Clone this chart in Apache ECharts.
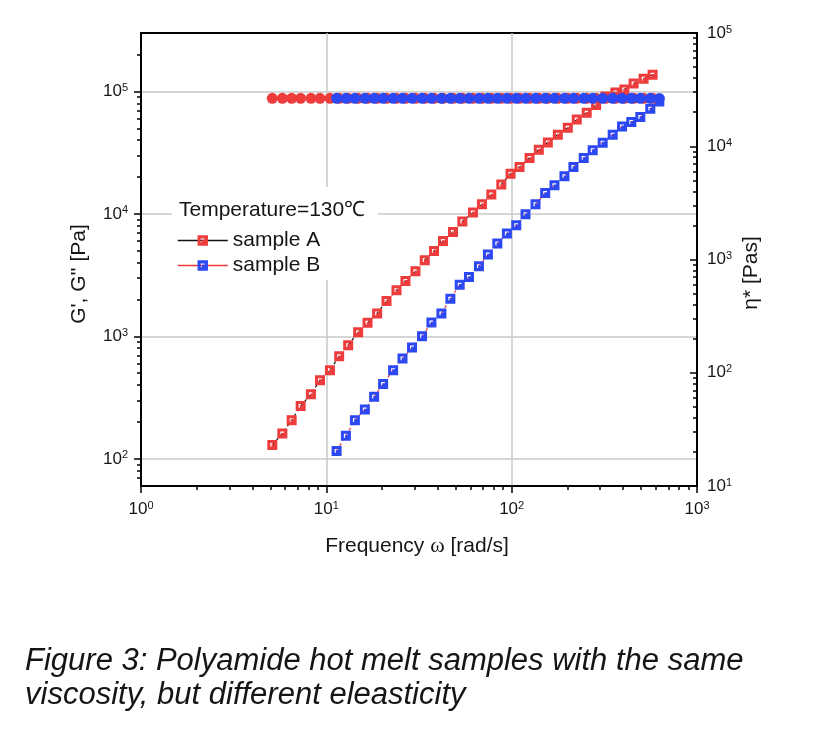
<!DOCTYPE html>
<html><head><meta charset="utf-8">
<script src="https://cdn.jsdelivr.net/npm/echarts@6/dist/echarts.min.js"></script>
<style>html,body{margin:0;padding:0;background:#fff}#c{width:826px;height:730px}</style>
</head><body><div id="c"></div>
<script>
// ---- data ----
const freqA = [5.11, 5.79, 6.50, 7.27, 8.26, 9.24, 10.46, 11.73, 13.12, 14.85, 16.69, 18.80, 21.12, 23.91, 26.73, 30.26, 33.96, 38.11, 42.62, 48.24, 54.20, 61.82, 69.11, 77.66, 87.90, 98.65, 110.3, 124.9, 140.1, 156.7, 177.4, 200.8, 224.5, 254.1, 285.5, 320.4, 362.6, 405.5, 455.0, 515.1, 576.0];
const gA = [130, 161, 207, 270, 336, 439, 530, 689, 848, 1082, 1289, 1538, 1948, 2381, 2836, 3402, 4183, 4982, 6012, 7118, 8652, 10250, 11970, 14370, 17340, 21320, 24130, 28580, 33460, 38370, 44360, 50570, 59100, 67040, 77620, 91040, 98130, 103800, 116200, 126900, 136800];
const etaA = [26500, 26500, 26500, 26500, 26500, 26500, 26500, 26500, 26500, 26500, 26500, 26500, 26500, 26500, 26500, 26500, 26500, 26500, 26500, 26500, 26500, 26500, 26500, 26500, 26500, 26500, 26500, 26500, 26500, 26500, 26500, 26500, 26500, 26500, 26500, 26500, 26500, 26500, 26500, 26500, 26500];
const freqB = [11.36, 12.75, 14.26, 16.14, 18.11, 20.25, 22.93, 25.76, 29.01, 32.84, 36.90, 41.78, 46.70, 52.43, 58.83, 66.60, 74.44, 83.66, 94.23, 105.9, 118.8, 134.5, 151.7, 170.2, 192.7, 215.4, 244.8, 273.7, 309.8, 350.8, 394.1, 442.2, 494.6, 559.8, 626.0];
const gB = [116, 154, 207, 253, 321, 408, 530, 660, 812, 1004, 1298, 1538, 2030, 2641, 3057, 3737, 4656, 5723, 6907, 8072, 9924, 11970, 14810, 17110, 20270, 24130, 28580, 33020, 38160, 44360, 51820, 56180, 61720, 72240, 82850];
const etaB = [26500, 26500, 26500, 26500, 26500, 26500, 26500, 26500, 26500, 26500, 26500, 26500, 26500, 26500, 26500, 26500, 26500, 26500, 26500, 26500, 26500, 26500, 26500, 26500, 26500, 26500, 26500, 26500, 26500, 26500, 26500, 26500, 26500, 26500, 26400];

// tick values
const xMajor = [1, 10, 100, 1000];
const xMinor = [2, 3, 4, 5, 6, 7, 8, 9, 20, 30, 40, 50, 60, 70, 80, 90, 200, 300, 400, 500, 600, 700, 800, 900];
const yLeftMajor = [100, 1000, 10000, 100000];
const yLeftMinor = [70, 80, 90, 200, 300, 400, 500, 600, 700, 800, 900, 2000, 3000, 4000, 5000, 6000, 7000, 8000, 9000, 20000, 30000, 40000, 50000, 60000, 70000, 80000, 90000, 200000];
const yRightMajor = [10, 100, 1000, 10000, 100000];
const yRightMinor = [20, 30, 40, 50, 60, 70, 80, 90, 200, 300, 400, 500, 600, 700, 800, 900, 2000, 3000, 4000, 5000, 6000, 7000, 8000, 9000, 20000, 30000, 40000, 50000, 60000, 70000, 80000, 90000];

const seriesNames = ['sample A', 'sample B'];
const legendTitle = 'Temperature=130\u2103';
const xTitle = ['Frequency ', '\u03c9', ' [rad/s]'];
const yLeftTitle = "G', G'' [Pa]";
const yRightTitle = '\u03b7* [Pas]';
const caption = ['Figure 3: Polyamide hot melt samples with the same', 'viscosity, but different eleasticity'];

// ---- chart ----
const FF = "'Liberation Sans', Arial, Helvetica, sans-serif";
const INK = '#151515';
const RED = '#ee3b3b', BLUE = '#2b48f2';
const SQ = 'path://M0,0H10V10H0Z M3,3V6.8H4.2V4.2H6.8V3Z';
const zip = (a, b) => a.map((v, i) => [v, b[i]]);

function powLabel(v) {
  const e = Math.round(Math.log10(v));
  return '{b|10}{s|' + e + '}';
}
const rich = {
  b: { fontSize: 17, lineHeight: 18, fontFamily: FF, color: INK },
  s: { fontSize: 11, lineHeight: 11, verticalAlign: 'top', fontFamily: FF, color: INK }
};
const tickStyle = { color: '#000', width: 1.5 };

function majorAxis(extra) {
  return Object.assign({
    type: 'log', logBase: 10,
    axisLine: { show: true, onZero: false, lineStyle: { color: '#000', width: 2 } },
    minorTick: { show: false }, minorSplitLine: { show: false }
  }, extra);
}
function minorAxis(extra) {
  return Object.assign({
    type: 'log', logBase: 10,
    axisLine: { show: false, onZero: false },
    axisLabel: { show: false },
    splitLine: { show: false },
    minorTick: { show: false }, minorSplitLine: { show: false }
  }, extra);
}

const chart = echarts.init(document.getElementById('c'), null, { renderer: 'canvas' });
chart.setOption({
  animation: false,
  backgroundColor: '#fff',
  textStyle: { fontFamily: FF },
  grid: { left: 141, right: 129, top: 33, bottom: 244, containLabel: false, outerBoundsMode: 'none',
          show: true, borderColor: '#000', borderWidth: 2, backgroundColor: 'transparent' },
  xAxis: [
    majorAxis({ min: 1, max: 1000, position: 'bottom',
      axisTick: { show: true, length: 7, customValues: xMajor, lineStyle: tickStyle },
      axisLabel: { show: true, customValues: xMajor, margin: 14, formatter: powLabel, rich: rich },
      splitLine: { show: true, lineStyle: { color: '#c9c9c9', width: 1.5 } } }),
    minorAxis({ min: 1, max: 1000, position: 'bottom',
      axisTick: { show: true, length: 4, customValues: xMinor, lineStyle: tickStyle } })
  ],
  yAxis: [
    majorAxis({ min: 60, max: 300000, position: 'left',
      axisTick: { show: true, length: 7, customValues: yLeftMajor, lineStyle: tickStyle },
      axisLabel: { show: true, customValues: yLeftMajor, margin: 13, formatter: powLabel, rich: rich },
      splitLine: { show: true, lineStyle: { color: '#c9c9c9', width: 1.5 } } }),
    minorAxis({ min: 60, max: 300000, position: 'left',
      axisTick: { show: true, length: 4, customValues: yLeftMinor, lineStyle: tickStyle } }),
    majorAxis({ min: 10, max: 100000, position: 'right',
      axisTick: { show: true, inside: true, length: 7, customValues: yRightMajor, lineStyle: tickStyle },
      axisLabel: { show: true, customValues: yRightMajor, margin: 10, formatter: powLabel, rich: rich },
      splitLine: { show: false } }),
    minorAxis({ min: 10, max: 100000, position: 'right',
      axisTick: { show: true, inside: true, length: 4, customValues: yRightMinor, lineStyle: tickStyle } })
  ],
  legend: {
    data: seriesNames, orient: 'vertical', left: 177, top: 230, padding: 0,
    itemWidth: 50, itemHeight: 13, itemGap: 4, selectedMode: false,
    lineStyle: { type: 'solid', width: 1.5 },
    textStyle: { fontSize: 21, fontFamily: FF, color: INK, lineHeight: 21 }
  },
  graphic: [
    { type: 'rect', z: 1, silent: true, shape: { x: 172, y: 187, width: 206, height: 93 }, style: { fill: '#fff' } },
    { type: 'text', z: 10, x: 179, y: 210, style: { text: legendTitle, font: '21px ' + FF, fill: INK, verticalAlign: 'middle' } },
    { type: 'text', z: 10, x: 417, y: 546, style: { text: '{a|' + xTitle[0] + '}{w|' + xTitle[1] + '}{a|' + xTitle[2] + '}', align: 'center', verticalAlign: 'middle',
        rich: { a: { fontSize: 21, fontFamily: FF, fill: INK }, w: { fontSize: 22, fontFamily: "'Liberation Serif', serif", fill: INK } } } },
    { type: 'text', z: 10, x: 79, y: 274, rotation: Math.PI / 2, style: { text: yLeftTitle, font: '21px ' + FF, fill: INK, align: 'center', verticalAlign: 'middle' } },
    { type: 'text', z: 10, x: 751, y: 273, rotation: Math.PI / 2, style: { text: yRightTitle, font: '21px ' + FF, fill: INK, align: 'center', verticalAlign: 'middle' } },
    { type: 'text', z: 10, x: 25, y: 661, style: { text: caption[0], font: 'italic 31px ' + FF, fill: INK, verticalAlign: 'middle' } },
    { type: 'text', z: 10, x: 25, y: 695, style: { text: caption[1], font: 'italic 31px ' + FF, fill: INK, verticalAlign: 'middle' } }
  ],
  series: [
    { name: seriesNames[0], type: 'line', xAxisIndex: 0, yAxisIndex: 0, data: zip(freqA, gA), z: 3,
      symbol: SQ, symbolSize: 10, itemStyle: { color: RED, opacity: 1 },
      lineStyle: { color: '#111', width: 1.2, type: [3, 3] } },
    { name: seriesNames[1], type: 'line', xAxisIndex: 0, yAxisIndex: 0, data: zip(freqB, gB), z: 3,
      symbol: SQ, symbolSize: 10, itemStyle: { color: BLUE, opacity: 1 },
      lineStyle: { color: RED, width: 1.2, type: [3, 3] } },
    { name: 'eta A', type: 'scatter', xAxisIndex: 0, yAxisIndex: 2, data: zip(freqA, etaA), z: 4,
      symbol: 'circle', symbolSize: 11, itemStyle: { color: RED, opacity: 1 } },
    { name: 'eta B', type: 'scatter', xAxisIndex: 0, yAxisIndex: 2, data: zip(freqB, etaB), z: 5,
      symbol: 'circle', symbolSize: 11, itemStyle: { color: BLUE, opacity: 1 } }
  ]
});
</script></body></html>
